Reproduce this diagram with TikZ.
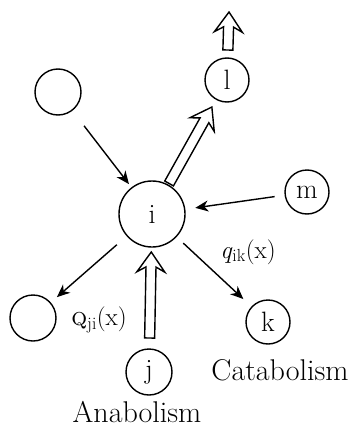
\documentclass[tikz,border=0pt]{standalone}
\usetikzlibrary{arrows.meta,calc}
\tikzset{
  circ/.style={circle, draw, line width=1.4pt, inner sep=0pt, font=\fontsize{28}{28}\selectfont},
  circS/.style={circ, minimum size=44pt},
  circB/.style={circ, minimum size=66pt},
  arr/.style={line width=1.4pt, -{Stealth[length=13pt,width=11pt,inset=4pt]}},
  hollow/.style={draw, line width=1.4pt, fill=white, line join=miter},
  lbl/.style={font=\fontsize{25}{25}\selectfont, inner sep=0pt},
  bigtext/.style={font=\fontsize{30}{33}\selectfont, inner sep=0pt}
}
\newcommand\hollowarrow[4]{%
  \path[hollow] let \p1=($(#1)!#3!(#2)$), \p2=($(#2)!#4!(#1)$),
    \n1={atan2(\y2-\y1,\x2-\x1)}, \n2={veclen(\x2-\x1,\y2-\y1)} in
    ($(\p1)+({\n1-90}:5pt)$)
    -- ($(\p1)+(\n1:{\n2*1pt-15pt})+({\n1-90}:5pt)$)
    -- ($(\p1)+(\n1:{\n2*1pt-20pt})+({\n1-90}:14pt)$)
    -- (\p2)
    -- ($(\p1)+(\n1:{\n2*1pt-20pt})+({\n1+90}:14pt)$)
    -- ($(\p1)+(\n1:{\n2*1pt-15pt})+({\n1+90}:5pt)$)
    -- ($(\p1)+({\n1+90}:5pt)$) -- cycle;}
\begin{document}
\begin{tikzpicture}[x=1pt,y=-1pt]
  \useasboundingbox (0,0) rectangle (350,431);
  \node[circS, minimum size=46pt] (a) at (58,92) {};
  \node[circS] (l) at (227,80) {l};
  \node[circS] (m) at (307,192) {m};
  \node[circB] (i) at (152,214) {i};
  \node[circS, minimum size=46pt] (b) at (33,318) {};
  \node[circS] (k) at (268,322) {k};
  \node[circS, minimum size=46pt] (j) at (149,372) {j};
  \coordinate (lout) at (229,12);

  \draw[arr, shorten <=19pt, shorten >=4pt] (a) -- (i);
  \draw[arr, shorten <=10pt, shorten >=10pt] (m) -- (i);
  \draw[arr, shorten <=13pt, shorten >=8pt] (i) -- (b);
  \draw[arr, shorten <=9pt, shorten >=11pt] (i) -- (k);

  \hollowarrow{i}{l}{35pt}{31pt}
  \hollowarrow{j}{i}{34pt}{38pt}
  \hollowarrow{l}{lout}{30pt}{0pt}

  \node[lbl] (qik) at (248,252) {\textit{q}\textsubscript{ik}(x)};
  \node[lbl] (qji) at (99,320) {\textsc{q}\textsubscript{ji}(x)};
  \node[bigtext] (cat) at (280,370) {Catabolism};
  \node[bigtext] (ana) at (137,412) {Anabolism};
\end{tikzpicture}
\end{document}
